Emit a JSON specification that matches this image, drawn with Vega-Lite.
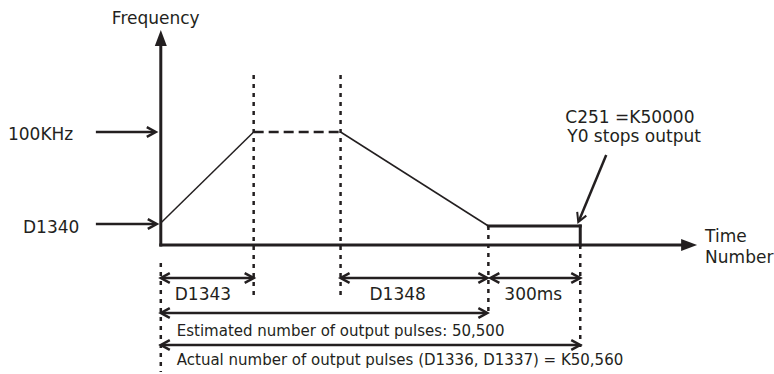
{
  "$schema": "https://vega.github.io/schema/vega-lite/v6.json",
  "width": 774,
  "height": 374,
  "autosize": {"type": "fit", "contains": "padding"},
  "padding": 0,
  "background": "white",
  "config": {"view": {"stroke": null}},
  "datasets": {
    "thick": [
      {"x": 0, "y": 0, "x2": 0, "y2": 203},
      {"x": 0, "y": 0, "x2": 527, "y2": 0},
      {"x": 328, "y": 19, "x2": 420, "y2": 19},
      {"x": 420, "y": 19, "x2": 420, "y2": 0}
    ],
    "thin": [
      {"x": 0, "y": 22, "x2": 93, "y2": 113},
      {"x": 180, "y": 113, "x2": 328, "y2": 19}
    ],
    "dashed": [
      {"x": 93, "y": 113, "x2": 180, "y2": 113}
    ],
    "dotted": [
      {"x": 93, "y": 170, "x2": 93, "y2": -53},
      {"x": 180, "y": 170, "x2": 180, "y2": -53},
      {"x": 0, "y": -18, "x2": 0, "y2": -127},
      {"x": 328, "y": 19, "x2": 328, "y2": -70},
      {"x": 420, "y": 0, "x2": 420, "y2": -102}
    ],
    "shafts": [
      {"x": -65, "y": 113, "x2": -6, "y2": 113},
      {"x": -65, "y": 21, "x2": -5, "y2": 21},
      {"x": 1, "y": -33, "x2": 92, "y2": -33},
      {"x": 181, "y": -33, "x2": 326, "y2": -33},
      {"x": 331, "y": -33, "x2": 419, "y2": -33},
      {"x": 1, "y": -68, "x2": 326, "y2": -68},
      {"x": 1, "y": -100, "x2": 419, "y2": -100},
      {"x": 446, "y": 90, "x2": 419, "y2": 25}
    ],
    "heads": [
      {"x": -5, "y": 113, "dir": "right"},
      {"x": -4, "y": 21, "dir": "right"},
      {"x": 93, "y": -33, "dir": "right"},
      {"x": 327, "y": -33, "dir": "right"},
      {"x": 420, "y": -33, "dir": "right"},
      {"x": 327, "y": -68, "dir": "right"},
      {"x": 420, "y": -100, "dir": "right"},
      {"x": 0, "y": -33, "dir": "left"},
      {"x": 180, "y": -33, "dir": "left"},
      {"x": 330, "y": -33, "dir": "left"},
      {"x": 0, "y": -68, "dir": "left"},
      {"x": 0, "y": -100, "dir": "left"}
    ],
    "pointer": [
      {"x": 418, "y": 23, "dir": "right"}
    ],
    "axisheads": [
      {"x": 0, "y": 215, "dir": "up"},
      {"x": 537, "y": 0, "dir": "east"}
    ],
    "bigtext": [
      {"x": -49, "y": 221, "label": "Frequency"},
      {"x": -153, "y": 105, "label": "100KHz"},
      {"x": -138, "y": 12, "label": "D1340"},
      {"x": 405, "y": 122, "label": "C251 =K50000"},
      {"x": 407, "y": 103, "label": "Y0 stops output"},
      {"x": 545, "y": 3, "label": "Time"},
      {"x": 545, "y": -18, "label": "Number"},
      {"x": 14, "y": -55, "label": "D1343"},
      {"x": 209, "y": -55, "label": "D1348"},
      {"x": 344, "y": -55, "label": "300ms"}
    ],
    "smalltext": [
      {"x": 16, "y": -91, "label": "Estimated number of output pulses: 50,500"},
      {"x": 16, "y": -120, "label": "Actual number of output pulses (D1336, D1337) = K50,560"}
    ]
  },
  "encoding": {
    "x": {"field": "x", "type": "quantitative", "scale": {"domain": [-161, 613], "nice": false, "zero": false}, "axis": null},
    "y": {"field": "y", "type": "quantitative", "scale": {"domain": [-129, 245], "nice": false, "zero": false}, "axis": null}
  },
  "layer": [
    {
      "data": {"name": "thick"},
      "mark": {"type": "rule", "stroke": "#231f20", "strokeWidth": 3, "strokeCap": "square"},
      "encoding": {"x2": {"field": "x2"}, "y2": {"field": "y2"}}
    },
    {
      "data": {"name": "thin"},
      "mark": {"type": "rule", "stroke": "#231f20", "strokeWidth": 1.5},
      "encoding": {"x2": {"field": "x2"}, "y2": {"field": "y2"}}
    },
    {
      "data": {"name": "dashed"},
      "mark": {"type": "rule", "stroke": "#231f20", "strokeWidth": 2.5, "strokeDash": [10, 5]},
      "encoding": {"x2": {"field": "x2"}, "y2": {"field": "y2"}}
    },
    {
      "data": {"name": "dotted"},
      "mark": {"type": "rule", "stroke": "#231f20", "strokeWidth": 2.5, "strokeDash": [4, 5]},
      "encoding": {"x2": {"field": "x2"}, "y2": {"field": "y2"}}
    },
    {
      "data": {"name": "shafts"},
      "mark": {"type": "rule", "stroke": "#231f20", "strokeWidth": 2.5},
      "encoding": {"x2": {"field": "x2"}, "y2": {"field": "y2"}}
    },
    {
      "data": {"name": "heads"},
      "mark": {"type": "point", "filled": false, "stroke": "#231f20", "strokeWidth": 2.5, "size": 324, "opacity": 1},
      "encoding": {
        "shape": {"field": "dir", "type": "nominal", "legend": null,
          "scale": {"domain": ["right", "left", "up", "east"], "range": ["M-1,-0.55L0,0L-1,0.55", "M1,-0.55L0,0L1,0.55", "M0,0L0.375,1L-0.375,1Z", "M0,0L-1,-0.375L-1,0.375Z"]}}
      }
    },
    {
      "data": {"name": "pointer"},
      "mark": {"type": "point", "filled": false, "stroke": "#231f20", "strokeWidth": 2, "size": 324, "angle": 113, "opacity": 1},
      "encoding": {
        "shape": {"field": "dir", "type": "nominal", "legend": null,
          "scale": {"domain": ["right", "left", "up", "east"], "range": ["M-1,-0.55L0,0L-1,0.55", "M1,-0.55L0,0L1,0.55", "M0,0L0.375,1L-0.375,1Z", "M0,0L-1,-0.375L-1,0.375Z"]}}
      }
    },
    {
      "data": {"name": "axisheads"},
      "mark": {"type": "point", "filled": true, "fill": "#231f20", "size": 1024, "opacity": 1},
      "encoding": {
        "shape": {"field": "dir", "type": "nominal", "legend": null,
          "scale": {"domain": ["right", "left", "up", "east"], "range": ["M-1,-0.55L0,0L-1,0.55", "M1,-0.55L0,0L1,0.55", "M0,0L0.375,1L-0.375,1Z", "M0,0L-1,-0.375L-1,0.375Z"]}}
      }
    },
    {
      "data": {"name": "bigtext"},
      "mark": {"type": "text", "align": "left", "baseline": "alphabetic", "font": "DejaVu Sans", "fontSize": 17, "fill": "#231f20"},
      "encoding": {"text": {"field": "label"}}
    },
    {
      "data": {"name": "smalltext"},
      "mark": {"type": "text", "align": "left", "baseline": "alphabetic", "font": "DejaVu Sans", "fontSize": 15, "fill": "#231f20"},
      "encoding": {"text": {"field": "label"}}
    }
  ]
}
